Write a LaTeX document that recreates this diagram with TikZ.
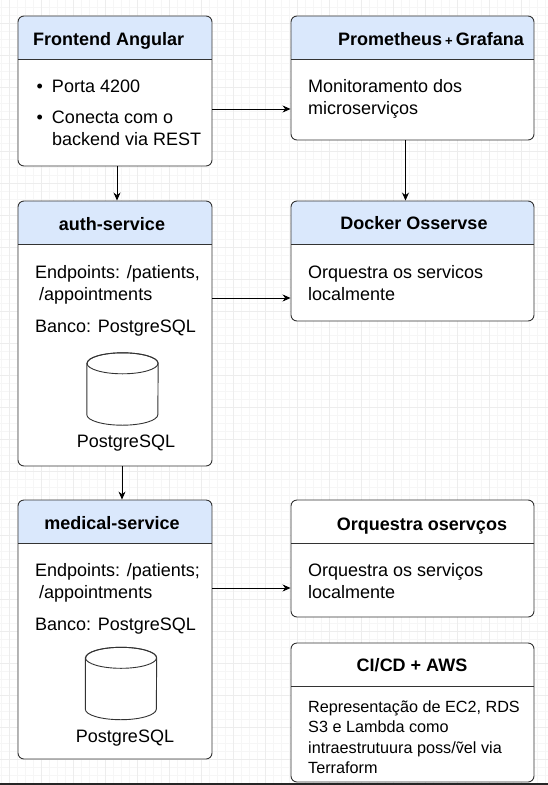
\documentclass[tikz,border=0pt]{standalone}
\usepackage{fontspec}
\setmainfont{Liberation Sans}
\usetikzlibrary{arrows.meta}
\definecolor{hdrblue}{HTML}{DAE8FC}
\definecolor{boxline}{HTML}{333333}
\definecolor{gridminor}{HTML}{F6F6F6}
\definecolor{gridmajor}{HTML}{EDEDED}
\tikzset{
  card/.style={draw=boxline, line width=0.9pt, rounded corners=6pt, fill=white, inner sep=0pt},
  leftcard/.style={card, minimum width=194pt},
  rightcard/.style={card, minimum width=243pt},
  head/.style={path picture={
      \fill[#1, sharp corners] (path picture bounding box.north west) rectangle ([yshift=-43pt]path picture bounding box.north east);
      \draw[boxline, line width=0.9pt, sharp corners] ([yshift=-43pt]path picture bounding box.north west) -- ([yshift=-43pt]path picture bounding box.north east);}},
  title/.style={font=\fontsize{18}{22}\selectfont\bfseries, inner sep=0pt},
  body/.style={font=\fontsize{18}{22}\selectfont, align=left, inner sep=0pt, anchor=north west},
  dbname/.style={font=\fontsize{18}{22}\selectfont, inner sep=0pt, anchor=base},
  dbspot/.style={inner sep=0pt, minimum width=71pt, minimum height=72pt},
  dbline/.style={draw=boxline, line width=0.9pt, fill=white},
  arr/.style={-{Stealth[length=8pt,width=7pt]}, line width=0.8pt}
}
% cylinder drawn inside a named node
\newcommand{\dbdraw}[1]{%
  \filldraw[dbline] ([yshift=-10.5pt]#1.north west) -- ([yshift=10.5pt]#1.south west)
      arc[start angle=180, end angle=360, x radius=35.5pt, y radius=10.5pt]
      -- ([yshift=-10.5pt]#1.north east)
      arc[start angle=0, end angle=180, x radius=35.5pt, y radius=10.5pt] -- cycle;
  \draw[dbline, fill=none] ([yshift=-10.5pt]#1.north) ellipse [x radius=35.5pt, y radius=10.5pt];}
\begin{document}
\begin{tikzpicture}[x=1pt, y=-1pt]
    \useasboundingbox (0,0) rectangle (548,785);

    % Background grid
    \begin{scope}
        \clip (0,0) rectangle (548,785);
        \draw[gridminor, line width=0.5pt, step=8pt, xshift=1pt, yshift=-7pt] (-16,-16) grid (570,800);
        \draw[gridmajor, line width=0.6pt, step=32pt, xshift=9pt, yshift=-23pt] (-40,-40) grid (590,820);
    \end{scope}

    % Boxes, left column
    \node[leftcard, head=hdrblue, minimum height=150pt] (fe) at (115,91) {};
    \node[leftcard, head=hdrblue, minimum height=265pt] (auth) at (115,333.5) {};
    \node[leftcard, head=hdrblue, minimum height=259pt] (med) at (115,629.5) {};

    % Boxes, right column
    \node[rightcard, head=hdrblue, minimum height=124pt] (prom) at (412.5,78) {};
    \node[rightcard, head=hdrblue, minimum height=120pt] (dock) at (412.5,261) {};
    \node[rightcard, head=white, minimum height=117pt] (orq) at (412.5,558.5) {};
    \node[rightcard, head=white, minimum height=139pt] (cicd) at (412.5,712.5) {};

    % Titles
    \node[title, anchor=base west] (fe-t) at (33,45.5) {Frontend Angular};
    \node[title, anchor=base east] (prom-t) at (524,45.5) {Prometheus\,{\fontsize{13}{13}\selectfont+}\,Grafana};
    \node[title, anchor=base] (auth-t) at (112,230.5) {auth-service};
    \node[title, anchor=base] (dock-t) at (414,229.5) {Docker Osservse};
    \node[title, anchor=base] (med-t) at (112,529.8) {medical-service};
    \node[title, anchor=base] (orq-t) at (422,530.5) {Orquestra oservços};
    \node[title, anchor=base] (cicd-t) at (412,671.5) {CI/CD + AWS};

    % Texts
    \node[body] (fe-b) at (36.5,77.1) {\begin{tabular}{@{}l@{\hspace{9pt}}l@{}}\textbullet & Porta 4200\\[9pt] \textbullet & Conecta com o\\ & backend via REST\end{tabular}};
    \node[body] (prom-b) at (308,79.4) {Monitoramento dos\\microserviços};
    \node[body] (auth-b) at (35,265.1) {Endpoints: /patients,\\\hspace*{4pt}/appointments\\[10pt]Banco: PostgreSQL};
    \node[body] (dock-b) at (308,265.1) {Orquestra os servicos\\localmente};
    \node[body] (med-b) at (35,563.4) {Endpoints: /patients;\\\hspace*{4pt}/appointments\\[10pt]Banco: PostgreSQL};
    \node[body] (orq-b) at (308,563.4) {Orquestra os serviços\\localmente};
    \node[body, font=\fontsize{16.2}{20.3}\selectfont] (cicd-b) at (308,700.7) {Representação de EC2, RDS\\S3 e Lambda como\\intraestrutuura poss/ṽel via\\Terraform};

    % Databases
    \node[dbspot] (auth-db) at (122.5,389) {};
    \dbdraw{auth-db}
    \node[dbname] (auth-dbl) at (126,447.5) {PostgreSQL};
    \node[dbspot] (med-db) at (121,683.5) {};
    \dbdraw{med-db}
    \node[dbname] (med-dbl) at (125,742.5) {PostgreSQL};

    % Connectors
    \draw[arr] ([yshift=-18pt]fe.east) -- ([yshift=-18pt]fe.east -| prom.west);
    \draw[arr] ([xshift=2pt]fe.south) -- ([xshift=2pt]fe.south |- auth.north);
    \draw[arr] ([xshift=-7pt]prom.south) -- ([xshift=-7pt]prom.south |- dock.north);
    \draw[arr] ([yshift=35.5pt]auth.east) -- ([yshift=35.5pt]auth.east -| dock.west);
    \draw[arr] ([xshift=7pt]auth.south) -- ([xshift=7pt]auth.south |- med.north);
    \draw[arr] ([yshift=41.5pt]med.east) -- ([yshift=41.5pt]med.east -| orq.west);

    % Bottom edge
    \fill[black!85] (0,782.5) rectangle (548,785);
\end{tikzpicture}
\end{document}
